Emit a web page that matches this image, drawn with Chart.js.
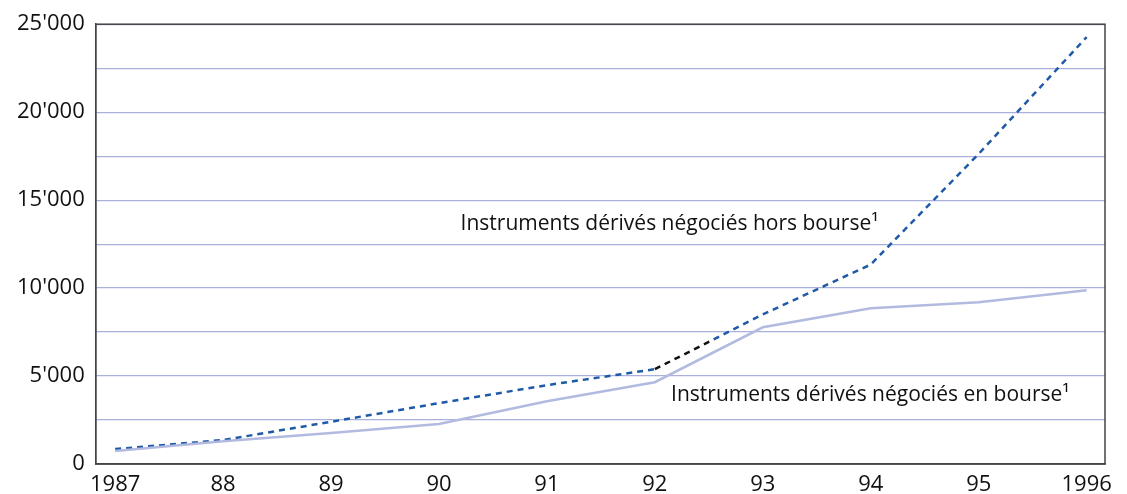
<!DOCTYPE html>
<html>
<head>
<meta charset="utf-8">
<script src="https://cdn.jsdelivr.net/npm/chart.js@4"></script>
<style>
  html, body { margin: 0; padding: 0; background: #fff; }
  #wrap { width: 1127px; height: 494px; }
</style>
</head>
<body>
<div id="wrap"><canvas id="chart"></canvas></div>
<script>
const years = [1987, 1988, 1989, 1990, 1991, 1992, 1993, 1994, 1995, 1996]
const horsBourse = [850, 1360, 2400, 3460, 4480, 5390, 8500, 11340, 17630, 24270] // OTC
const enBourse = [740, 1300, 1760, 2270, 3570, 4650, 7770, 8850, 9190, 9870] // exchange
const yTicks = [0, 5000, 10000, 15000, 20000, 25000]
const labelHors = 'Instruments dérivés négociés hors bourse¹'
const labelEn = 'Instruments dérivés négociés en bourse¹'

const fontFamily = '"Open Sans", "Noto Sans", sans-serif'
const canvas = document.getElementById('chart')

function fmt(v) {
    if (v === 0) return '0'
    const s = String(v)
    return s.slice(0, -3) + "'" + s.slice(-3)
}

// segment 92-93 of the OTC line starts black then turns blue
function blackToBlue(c) {
    if (c.p0DataIndex !== 5) return undefined
    const g = canvas.getContext('2d').createLinearGradient(c.p0.x, c.p0.y, c.p1.x, c.p1.y)
    g.addColorStop(0, '#111')
    g.addColorStop(0.55, '#111')
    g.addColorStop(0.55, '#1f5aa8')
    g.addColorStop(1, '#1f5aa8')
    return g
}

const frameAndLabels = {
    id: 'frameAndLabels',
    afterDraw(ch) {
        const { ctx, chartArea: a, scales } = ch
        ctx.save()
        ctx.strokeStyle = '#444'
        ctx.lineWidth = 1.5
        ctx.strokeRect(a.left, a.top, a.right - a.left, a.bottom - a.top)
        ctx.fillStyle = '#111'
        ctx.font = '21px ' + fontFamily
        ctx.textBaseline = 'middle'
        ctx.fillText(labelHors, scales.x.getPixelForValue(1990.2), scales.y.getPixelForValue(13670))
        ctx.fillText(labelEn, scales.x.getPixelForValue(1992.15), scales.y.getPixelForValue(3910))
        ctx.restore()
    }
}

new Chart(canvas, {
    type: 'line',
    data: {
        datasets: [
            {
                label: labelEn,
                data: years.map((y, i) => ({ x: y, y: enBourse[i] })),
                borderColor: '#b3bae0',
                borderWidth: 2.5,
                pointRadius: 0,
                tension: 0
            },
            {
                label: labelHors,
                data: years.map((y, i) => ({ x: y, y: horsBourse[i] })),
                borderColor: '#1f5aa8',
                borderWidth: 2.5,
                borderDash: [6, 5],
                pointRadius: 0,
                tension: 0,
                segment: { borderColor: blackToBlue }
            }
        ]
    },
    options: {
        responsive: true,
        maintainAspectRatio: false,
        animation: false,
        layout: { padding: { top: 20, right: 22, left: 6, bottom: -12 } },
        plugins: {
            legend: { display: false },
            tooltip: { enabled: false }
        },
        scales: {
            x: {
                type: 'linear',
                min: 1986.82,
                max: 1996.17,
                afterBuildTicks: axis => { axis.ticks = years.map(v => ({ value: v })) },
                grid: { display: false, drawTicks: false },
                border: { display: true, color: '#444', width: 1.5 },
                ticks: {
                    color: '#111',
                    font: { family: fontFamily, size: 22, lineHeight: 1 },
                    padding: 10,
                    maxRotation: 0,
                    autoSkip: false,
                    callback: v => (v === 1987 || v === 1996) ? String(v) : String(v).slice(2)
                }
            },
            y: {
                min: 0,
                max: 25000,
                ticks: {
                    stepSize: 2500,
                    color: '#111',
                    font: { family: fontFamily, size: 22 },
                    padding: 11,
                    callback: v => yTicks.includes(v) ? fmt(v) : ''
                },
                grid: { color: '#a9b0dc', lineWidth: 1.2, drawTicks: false },
                border: { display: true, color: '#444', width: 1.5 }
            }
        }
    },
    plugins: [frameAndLabels]
})
</script>
</body>
</html>
